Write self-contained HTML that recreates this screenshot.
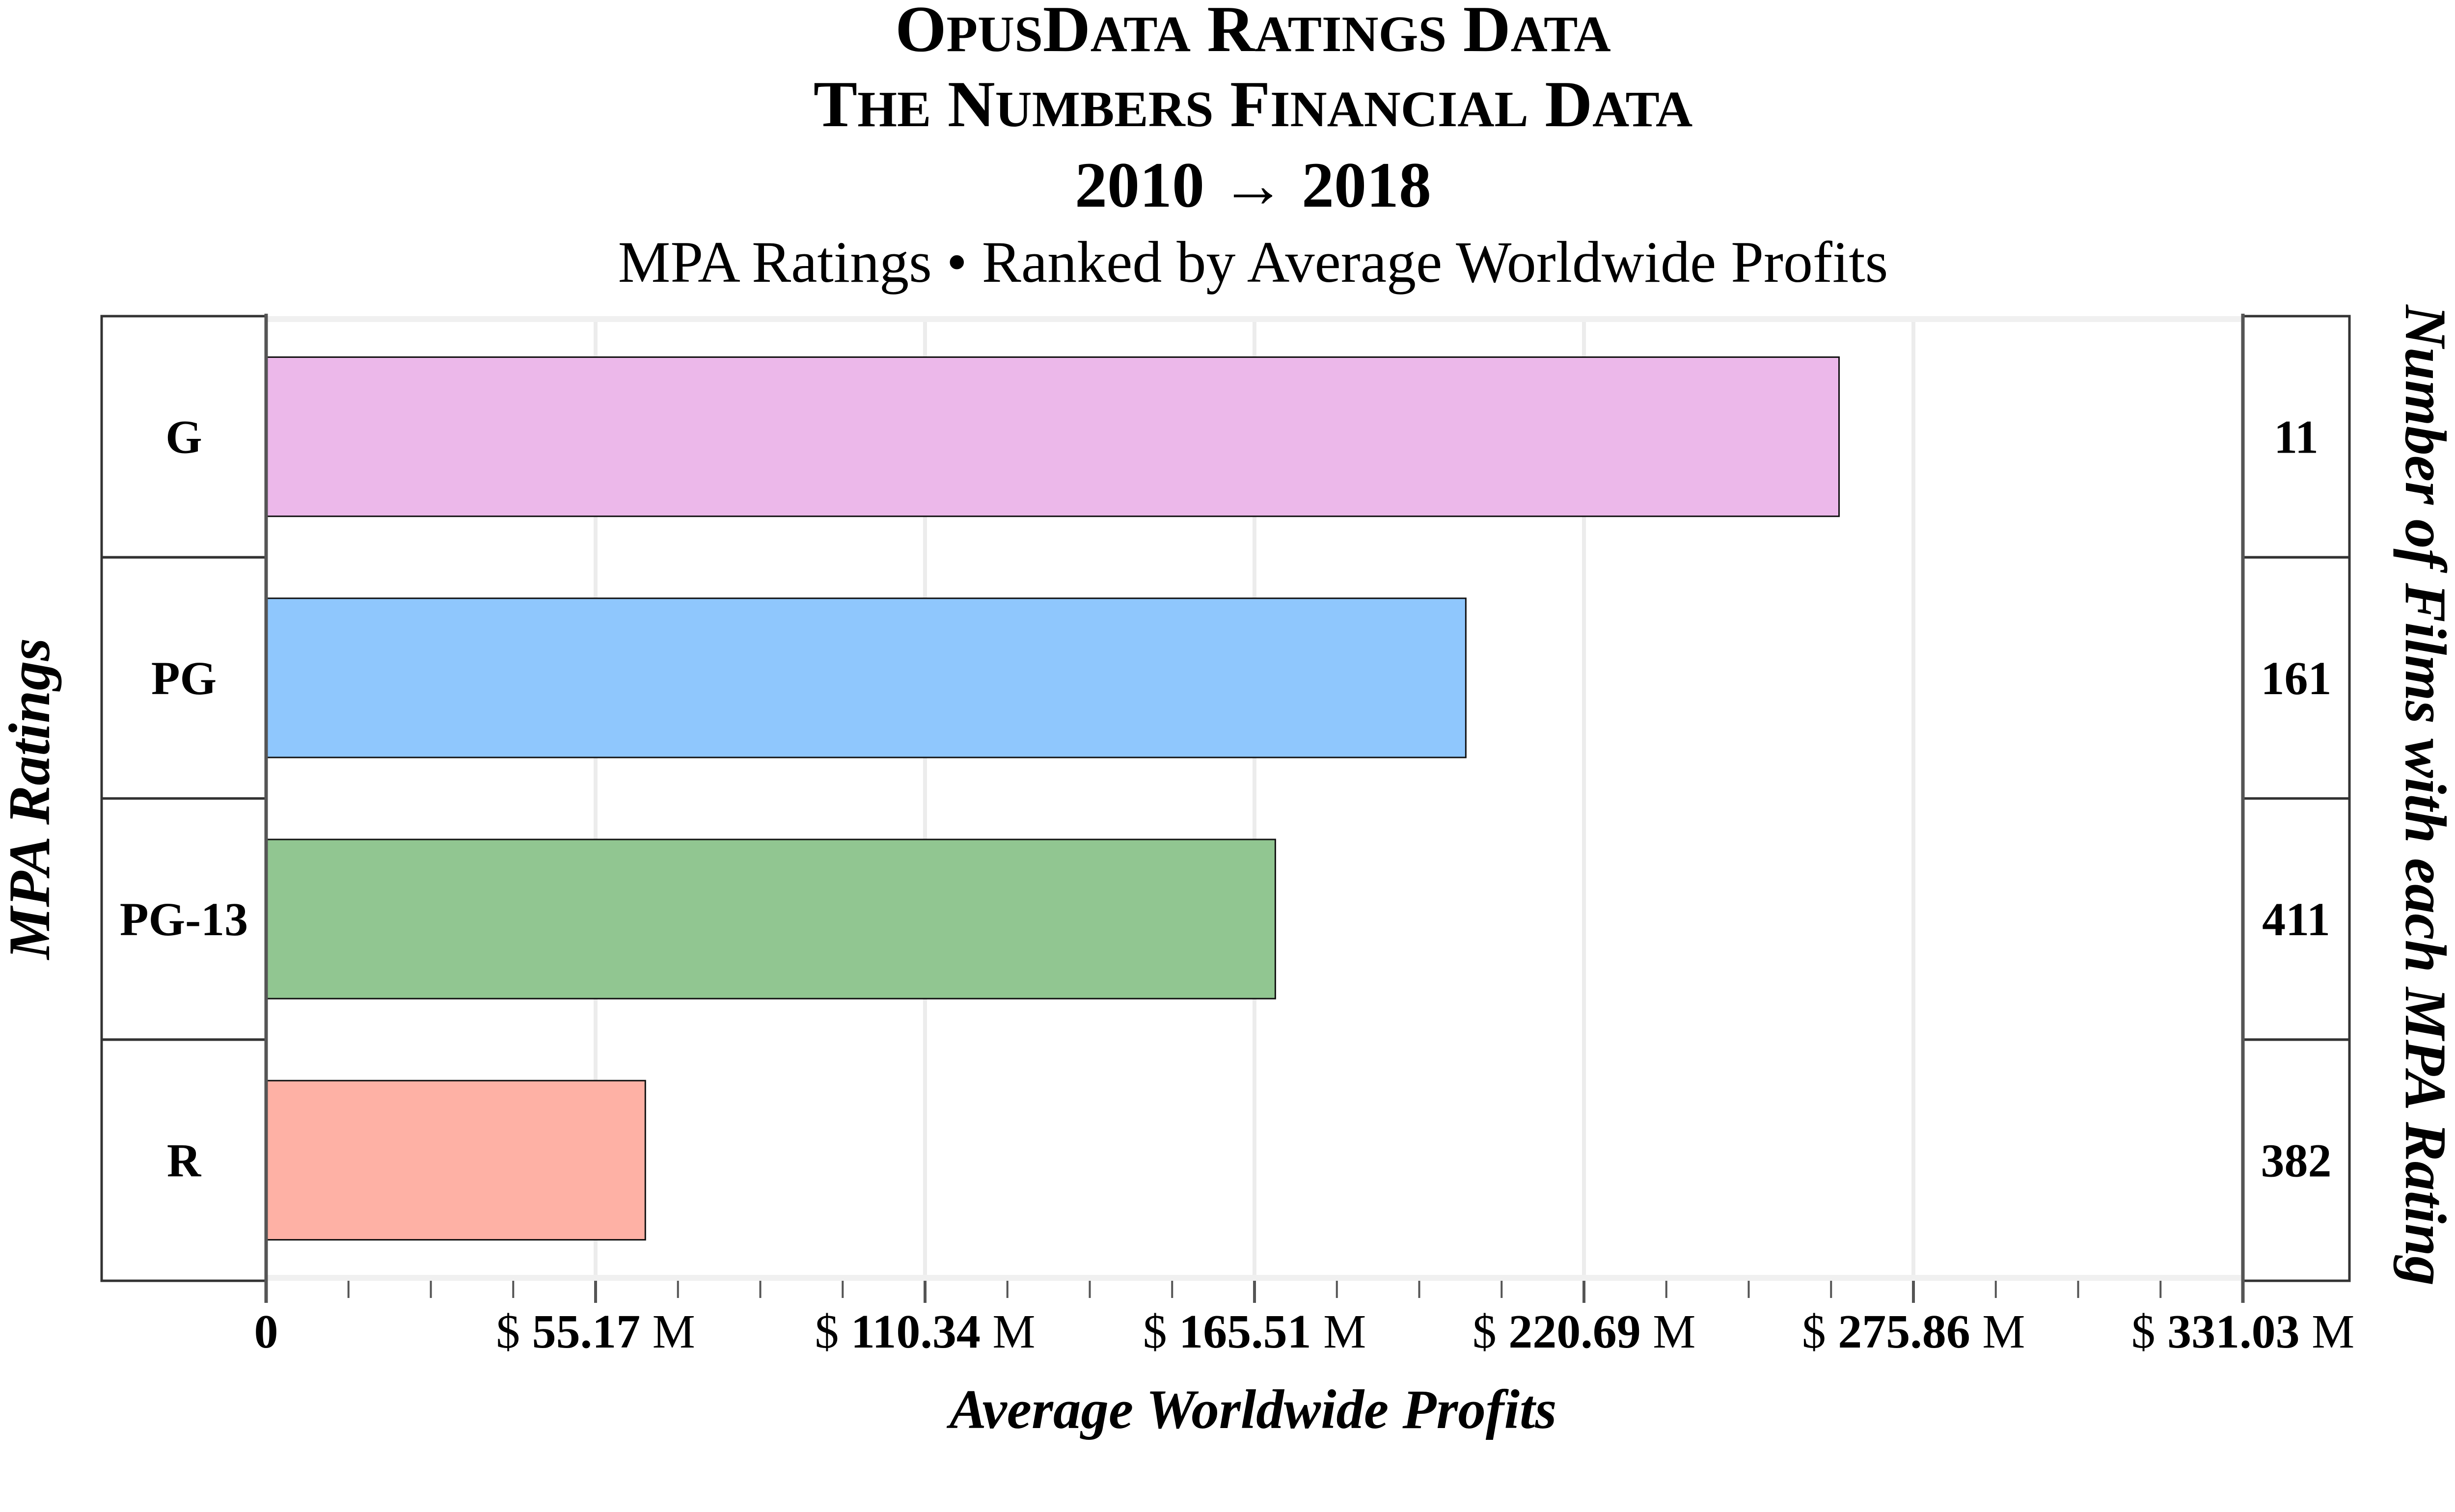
<!DOCTYPE html>
<html><head><meta charset="utf-8"><style>
html,body{margin:0;padding:0;background:#fff}
svg{display:block;font-family:"Liberation Serif",serif}
</style></head><body>
<svg id="chart" width="5193" height="3080" viewBox="0 0 5193 3080" xmlns="http://www.w3.org/2000/svg">
<g text-anchor="middle" font-weight="bold" fill="#000">
<text x="2552" y="104" font-size="134">O<tspan font-size="104">PUS</tspan>D<tspan font-size="104">ATA</tspan> R<tspan font-size="104">ATINGS</tspan> D<tspan font-size="104">ATA</tspan></text>
<text x="2552" y="257" font-size="134">T<tspan font-size="104">HE</tspan> N<tspan font-size="104">UMBERS</tspan> F<tspan font-size="104">INANCIAL</tspan> D<tspan font-size="104">ATA</tspan></text>
<text x="2552" y="421" font-size="132">2010 → 2018</text>
</g>
<text x="2552" y="574" font-size="120" text-anchor="middle">MPA Ratings • Ranked by Average Worldwide Profits</text>
<g id="plot"></g>
<text x="2552" y="2909" font-size="113" font-weight="bold" font-style="italic" text-anchor="middle">Average Worldwide Profits</text>
<text transform="translate(100,1627) rotate(-90)" font-size="120" font-weight="bold" font-style="italic" text-anchor="middle">MPA Ratings</text>
<text transform="translate(4900,1620) rotate(90)" font-size="120" font-weight="bold" font-style="italic" text-anchor="middle">Number of Films with each MPA Rating</text>
</svg>
<script>
const categories = ["G","PG","PG-13","R"];
const profits = [263.4, 200.9, 169.0, 63.5];
const counts = ["11","161","411","382"];
const tickValues = [0, 55.17, 110.34, 165.51, 220.69, 275.86, 331.03];
const tickLabels = ["0","55.17","110.34","165.51","220.69","275.86","331.03"];
const colors = ["#ecb8ea","#8fc7fd","#91c691","#feb1a5"];

const NS = "http://www.w3.org/2000/svg";
const g = document.getElementById("plot");
const X0 = 542, X1 = 4568, Y0 = 644, Y1 = 2609, XMAX = 331.03, LB = 207, RB = 4785;
const rowH = (Y1 - Y0) / categories.length;
function xs(v){ return X0 + (v / XMAX) * (X1 - X0); }
function mk(tag, attrs){ const e = document.createElementNS(NS, tag); for (const k in attrs) e.setAttribute(k, attrs[k]); g.appendChild(e); return e; }

tickValues.forEach((v,i)=>{
  if(i===0) return;
  const l = mk("line",{x1:xs(v),x2:xs(v),y1:Y0,y2:Y1,stroke:"#ececec","stroke-width":8});
  
  
});
const tb = mk("line",{x1:X0,x2:X1,y1:Y0+6,y2:Y0+6,stroke:"#f0f0f0","stroke-width":12});


const bb = mk("line",{x1:X0,x2:X1,y1:Y1-6,y2:Y1-6,stroke:"#f0f0f0","stroke-width":12});



categories.forEach((c,i)=>{
  const yTop = Y0 + i*rowH;
  const pad = rowH*0.17;
  const b = mk("rect",{x:xs(0),y:yTop+pad,width:xs(profits[i])-xs(0),height:rowH-2*pad,fill:colors[i],stroke:"#111","stroke-width":3});
  
  
  const lb = mk("rect",{x:LB,y:yTop,width:X0-LB,height:rowH,fill:"none",stroke:"#333","stroke-width":5});
  
  
  const lt = mk("text",{x:(LB+X0)/2,y:yTop+rowH/2+33,"font-size":96,"font-weight":"bold","text-anchor":"middle"});
  lt.textContent = c;
  
  
  const rb = mk("rect",{x:X1,y:yTop,width:RB-X1,height:rowH,fill:"none",stroke:"#333","stroke-width":5});
  
  
  const rt = mk("text",{x:(X1+RB)/2,y:yTop+rowH/2+33,"font-size":96,"font-weight":"bold","text-anchor":"middle"});
  rt.textContent = counts[i];
  
  
});

const la = mk("line",{x1:X0,x2:X0,y1:Y0-5,y2:Y1+45,stroke:"#555","stroke-width":7});


const ra = mk("line",{x1:X1,x2:X1,y1:Y0-5,y2:Y1+45,stroke:"#555","stroke-width":7});



for(let k=0;k<=24;k++){
  const v = XMAX*k/24, major = k%4===0;
  const t = mk("line",{x1:xs(v),x2:xs(v),y1:Y1,y2:Y1+(major?45:35),stroke:"#555","stroke-width":major?6:4});
  
  
}
tickValues.forEach((v,i)=>{
  const t = mk("text",{x:xs(v),y:2745,"font-size":98,"text-anchor":"middle"});
  
  
  if(i===0){ t.setAttribute("font-weight","bold"); t.textContent="0"; return; }
  const a=document.createElementNS(NS,"tspan"); a.textContent="$ ";
  const b=document.createElementNS(NS,"tspan"); b.setAttribute("font-weight","bold"); b.textContent=tickLabels[i];
  const m=document.createElementNS(NS,"tspan"); m.textContent=" M";
  t.appendChild(a); t.appendChild(b); t.appendChild(m);
});
</script>
</body></html>
